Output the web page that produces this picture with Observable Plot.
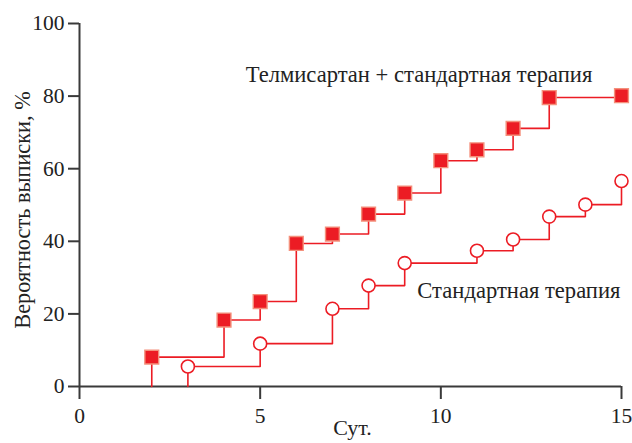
<!DOCTYPE html>
<html>
<head>
<meta charset="utf-8">
<script src="https://cdn.jsdelivr.net/npm/d3@7"></script>
<script src="https://cdn.jsdelivr.net/npm/@observablehq/plot@0.6"></script>
<style>
  html, body { margin: 0; padding: 0; background: #fff; }
</style>
</head>
<body>
<div id="chart"></div>
<script>
// Data
const telmisartanDays = [2, 4, 5, 6, 7, 8, 9, 10, 11, 12, 13, 15];
const telmisartanProb = [8.1, 18.3, 23.4, 39.4, 42.0, 47.5, 53.3, 62.2, 65.2, 71.1, 79.6, 80.1];
const standardDays = [3, 5, 7, 8, 9, 11, 12, 13, 14, 15];
const standardProb = [5.5, 11.8, 21.4, 27.8, 34.0, 37.4, 40.5, 46.8, 50.1, 56.6];
const xTicks = [0, 5, 10, 15];
const yTicks = [0, 20, 40, 60, 80, 100];
const labelTelmisartan = "Телмисартан + стандартная терапия";
const labelStandard = "Стандартная терапия";
const xLabel = "Сут.";
const yLabel = "Вероятность выписки, %";

const toRows = (xs, ys) => xs.map((x, i) => ({x, y: ys[i]}));
const telRows = toRows(telmisartanDays, telmisartanProb);
const stdRows = toRows(standardDays, standardProb);
// step line starts at 0 on the first event day
const telLine = [{x: telmisartanDays[0], y: 0}, ...telRows];
const stdLine = [{x: standardDays[0], y: 0}, ...stdRows];

const red = "#ec1c24";
const axisColor = "#3a3a3a";
const textColor = "#222";
const font = "Liberation Serif";

const chart = Plot.plot({
  width: 632,
  height: 443,
  marginLeft: 79,
  marginRight: 11,
  marginTop: 23,
  marginBottom: 57,
  style: "font-family: 'Liberation Serif'; font-size: 21px;",
  x: {domain: [0, 15]},
  y: {domain: [0, 100]},
  marks: [
    Plot.axisY({ticks: yTicks, tickSize: 11, tickPadding: 4, label: null, strokeWidth: 2, stroke: axisColor, fill: textColor, fontSize: 21.5, fontFamily: font}),
    Plot.axisX({ticks: xTicks, tickSize: 13, tickPadding: 8, label: null, strokeWidth: 2, stroke: axisColor, fill: textColor, fontSize: 21.5, fontFamily: font}),
    Plot.ruleX([0], {y1: 0, y2: 100, stroke: axisColor, strokeWidth: 2}),
    Plot.ruleY([0], {x1: 0, x2: 15, stroke: axisColor, strokeWidth: 2}),
    Plot.line(stdLine, {x: "x", y: "y", curve: "step-after", stroke: red, strokeWidth: 1.6}),
    Plot.line(telLine, {x: "x", y: "y", curve: "step-after", stroke: red, strokeWidth: 1.6}),
    Plot.dot(stdRows, {x: "x", y: "y", r: 6.5, fill: "#fff", stroke: red, strokeWidth: 1.6}),
    Plot.dot(telRows, {x: "x", y: "y", symbol: "square", r: 7.8, fill: red, stroke: "#f4907c", strokeWidth: 1.4}),
    Plot.text([labelTelmisartan], {x: 4.6, y: 86, text: d => d, textAnchor: "start", fontSize: 22.6, fill: textColor, fontFamily: font}),
    Plot.text([labelStandard], {x: 9.35, y: 26.4, text: d => d, textAnchor: "start", fontSize: 22.6, fill: textColor, fontFamily: font}),
    Plot.text([xLabel], {frameAnchor: "bottom", text: d => d, dx: 2, dy: 48, fontSize: 22, fill: textColor, fontFamily: font}),
    Plot.text([yLabel], {frameAnchor: "left", textAnchor: "middle", text: d => d, rotate: -90, dx: -57, dy: 5, fontSize: 22.3, fill: textColor, fontFamily: font})
  ]
});
document.getElementById("chart").appendChild(chart);
</script>
</body>
</html>
